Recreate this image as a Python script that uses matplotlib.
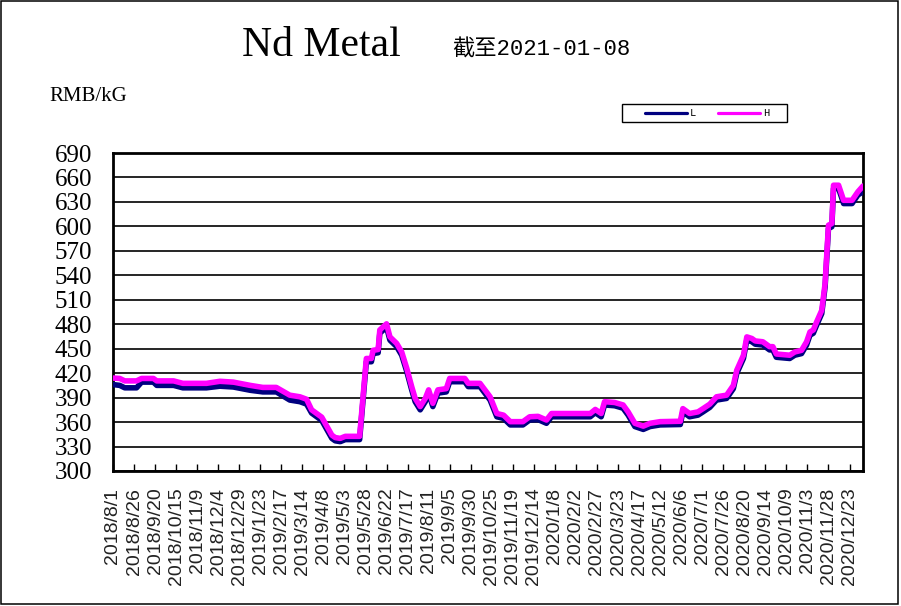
import matplotlib
matplotlib.use("Agg")
import matplotlib.pyplot as plt
import pandas as pd
from matplotlib.patches import Rectangle
from matplotlib.lines import Line2D

# price points (RMB/kG)
dates = [
    "2018-08-01", "2018-08-09", "2018-08-15", "2018-08-29", "2018-09-04",
    "2018-09-18", "2018-09-22", "2018-10-12", "2018-10-23", "2018-11-20",
    "2018-12-06", "2018-12-22", "2019-01-11", "2019-01-26", "2019-02-11",
    "2019-02-27", "2019-03-11", "2019-03-19", "2019-03-25", "2019-04-06",
    "2019-04-18", "2019-04-22", "2019-04-28", "2019-05-04", "2019-05-21",
    "2019-05-29", "2019-06-04", "2019-06-06", "2019-06-12", "2019-06-14",
    "2019-06-22", "2019-06-26", "2019-07-04", "2019-07-10", "2019-07-16",
    "2019-07-22", "2019-07-26", "2019-08-01", "2019-08-07", "2019-08-11",
    "2019-08-16", "2019-08-22", "2019-09-01", "2019-09-05", "2019-09-23",
    "2019-09-27", "2019-10-11", "2019-10-23", "2019-10-31", "2019-11-08",
    "2019-11-16", "2019-12-01", "2019-12-09", "2019-12-19", "2019-12-29",
    "2020-01-04", "2020-02-19", "2020-02-25", "2020-03-03", "2020-03-07",
    "2020-03-19", "2020-03-29", "2020-04-04", "2020-04-12", "2020-04-22",
    "2020-04-30", "2020-05-12", "2020-06-05", "2020-06-08", "2020-06-16",
    "2020-06-26", "2020-07-02", "2020-07-10", "2020-07-18", "2020-07-30",
    "2020-08-07", "2020-08-11", "2020-08-19", "2020-08-23", "2020-08-29",
    "2020-09-02", "2020-09-11", "2020-09-19", "2020-09-23", "2020-09-27",
    "2020-10-13", "2020-10-19", "2020-10-27", "2020-11-02", "2020-11-06",
    "2020-11-10", "2020-11-14", "2020-11-20", "2020-11-24", "2020-11-28",
    "2020-12-02", "2020-12-04", "2020-12-10", "2020-12-16", "2020-12-26",
    "2021-01-02", "2021-01-08",
]
high = [
    414, 413.5, 410.5, 410.5, 413.5,
    413.5, 410.5, 410.5, 407.5, 407.5,
    410, 409, 405, 402.5, 402.5,
    393, 391, 388, 375, 366,
    344, 341, 340, 342.5, 342.5,
    438, 438, 448, 449, 473,
    480.5, 464.5, 456.5, 446, 426,
    403, 389, 379, 389, 399.5,
    383, 399.5, 401, 413.5, 413.5,
    407.5, 407.5, 391, 370.5, 368.5,
    360.5, 360.5, 366.5, 367, 362.5,
    370.5, 370.5, 375.5, 370.5, 385,
    384, 381, 372.5, 358.5, 355,
    358.5, 360.5, 361, 376.5, 370.5,
    372.5, 376.5, 382, 391, 393,
    405, 423.5, 442, 464.5, 462.5,
    459.5, 458.5, 452.5, 452.5, 443.5,
    442, 446, 448, 458.5, 470.5,
    473, 483, 497, 530, 601.5,
    603.5, 650.5, 650.5, 632, 632,
    642.5, 649.5,
]
low = [
    406, 405, 402, 402, 409,
    409, 405, 405, 402, 402,
    404, 403, 399, 397, 397,
    387, 385, 382, 371, 362,
    340, 337, 336, 338.5, 338.5,
    434, 434, 444, 445, 469,
    476.5, 460.5, 452.5, 442, 422,
    399, 385, 375, 385, 395.5,
    379, 395.5, 397, 409.5, 409.5,
    403.5, 403.5, 387, 366.5, 364.5,
    356.5, 356.5, 362.5, 363, 358.5,
    366.5, 366.5, 371.5, 366.5, 381,
    380, 377, 368.5, 354.5, 351,
    354.5, 356.5, 357, 372.5, 366.5,
    368.5, 372.5, 378, 387, 389,
    401, 419.5, 438, 460.5, 458.5,
    455.5, 454.5, 448.5, 448.5, 439.5,
    438, 442, 444, 454.5, 466.5,
    469, 479, 493, 526, 597.5,
    599.5, 646.5, 646.5, 628, 628,
    638.5, 642.5,
]

x = pd.to_datetime(dates)
y_ticks = list(range(300, 691, 30))
tick_dates = pd.date_range("2018-08-01", "2020-12-23", freq="25D")
tick_labels = [f"{d.year}/{d.month}/{d.day}" for d in tick_dates]

fig = plt.figure(figsize=(9.01, 6.06), dpi=100)
fig.patch.set_facecolor("white")
fig.patches.append(Rectangle((0.001, 0.004), 0.996, 0.994, transform=fig.transFigure,
                             fill=False, edgecolor="black", linewidth=1.1))

ax = fig.add_axes([0.1254, 0.2228, 0.8324, 0.5247])

line_l, = ax.plot(x, low, color="#000080", linewidth=4, label="L",
                  solid_joinstyle="round", solid_capstyle="round", zorder=3)
line_h, = ax.plot(x, high, color="#FF00FF", linewidth=4, label="H",
                  solid_joinstyle="round", solid_capstyle="round", zorder=4)

ax.set_xlim(pd.Timestamp("2018-08-01"), pd.Timestamp("2021-01-08"))
ax.set_ylim(300, 690)
ax.set_yticks(y_ticks)
ax.set_yticklabels([str(v) for v in y_ticks], family="Liberation Serif", fontsize=18)
ax.yaxis.grid(True, color="black", linewidth=1.2)
ax.set_axisbelow(True)
ax.tick_params(axis="y", length=0, pad=15)

ax.set_xticks(tick_dates)
ax.set_xticklabels(tick_labels, rotation=90, family="Liberation Sans",
                   fontsize=14, color="#222222")
ax.tick_params(axis="x", direction="in", length=5, width=1, pad=12)

for s in ax.spines.values():
    s.set_linewidth(2)
    s.set_color("black")

# titles
fig.text(0.269, 0.925, "Nd Metal", family="Liberation Serif", fontsize=30,
         ha="left", va="center")
fig.text(0.502, 0.917, "截至2021-01-08", family=["Liberation Mono", "Noto Sans CJK SC"],
         fontsize=16, ha="left", va="center")
fig.text(0.055, 0.84, "RMB/kG", family="Liberation Serif", fontsize=15,
         ha="left", va="center")

# legend box drawn like the original (wide, flat frame)
fig.patches.append(Rectangle((0.6903, 0.7987), 0.1832, 0.0297,
                             transform=fig.transFigure, fill=False,
                             edgecolor="black", linewidth=1))
leg_y = 0.8135
for ln, x0, tx in [(line_l, 0.7162, 0.7660), (line_h, 0.7969, 0.8468)]:
    fig.lines.append(Line2D([x0, x0 + 0.0466], [leg_y, leg_y], transform=fig.transFigure,
                            color=ln.get_color(), linewidth=2.3, solid_capstyle="round"))
    fig.text(tx, leg_y, ln.get_label(), family="Liberation Mono", fontsize=7.5,
             ha="left", va="center")

fig.savefig("out.png", dpi=100, facecolor="white")
